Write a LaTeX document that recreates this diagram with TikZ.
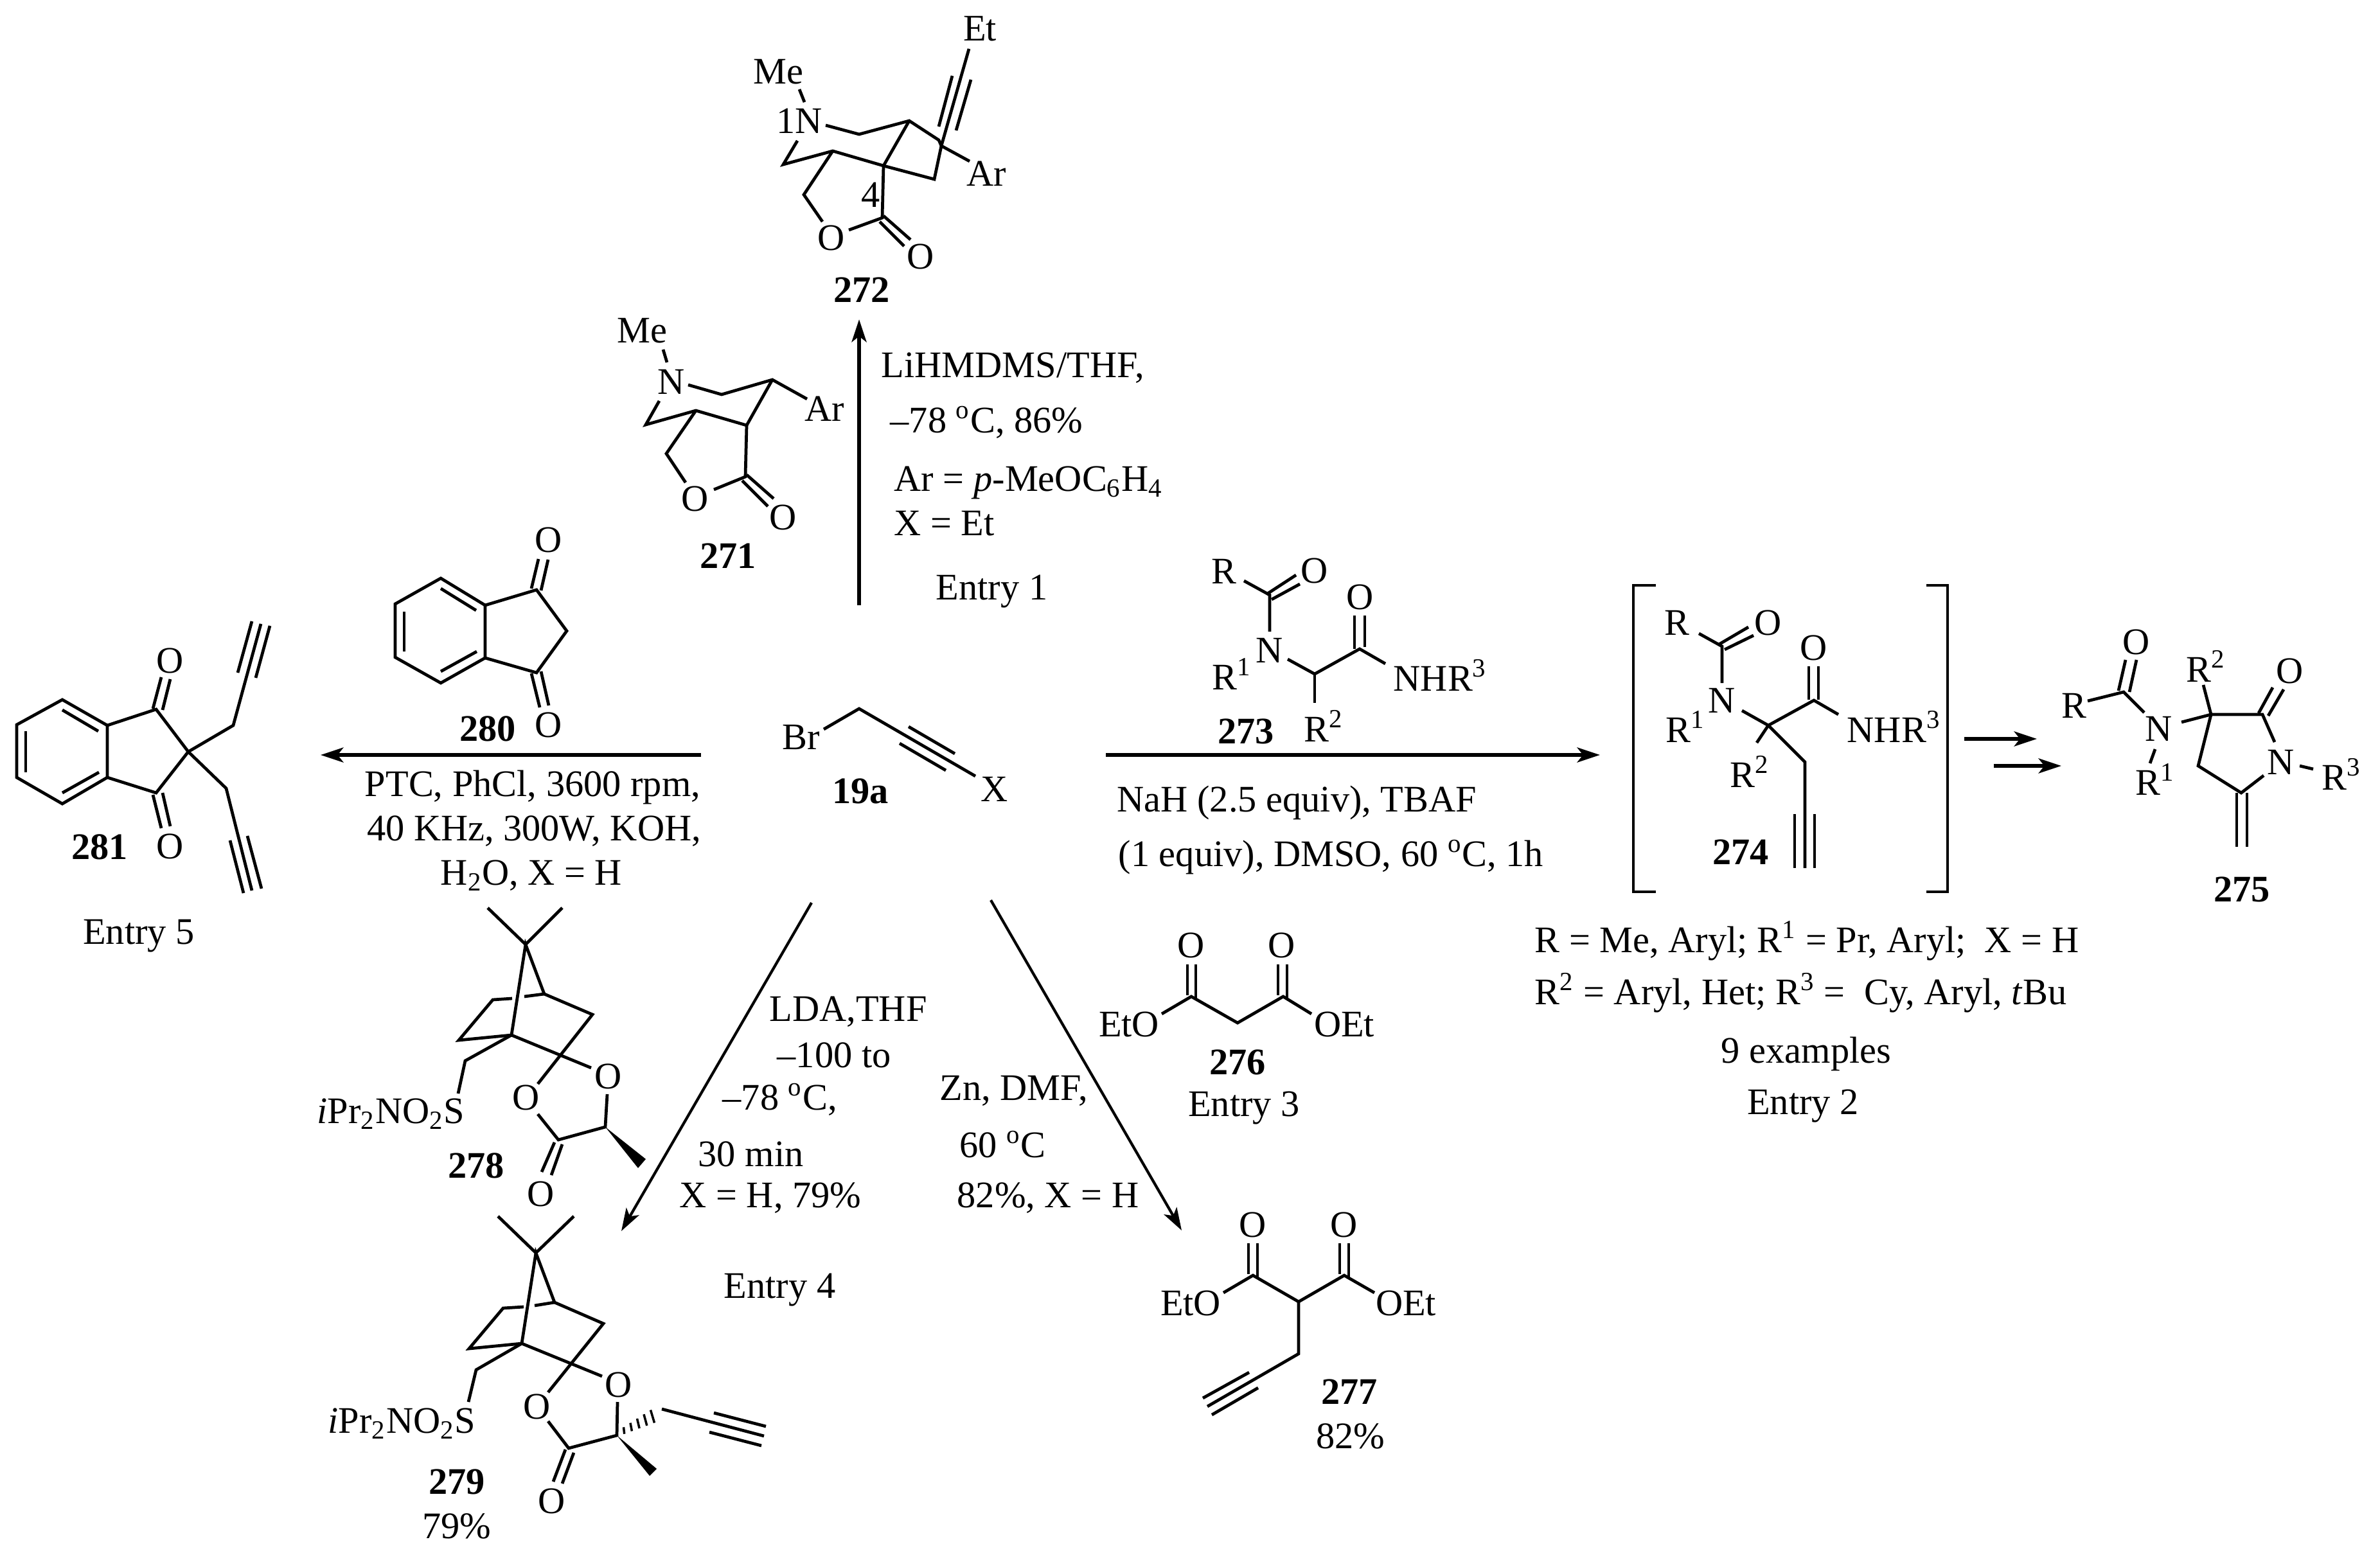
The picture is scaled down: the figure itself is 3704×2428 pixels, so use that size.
\documentclass[tikz,border=0pt]{standalone}
\usepackage{fontspec}
\setmainfont{Liberation Serif}
\usetikzlibrary{arrows.meta}
\tikzset{
  bond/.style={line width=1.35pt},
  rxn/.style={line width=1.7pt,-{Stealth[length=10pt,width=6.5pt,inset=2.5pt]}},
  rxnthin/.style={line width=1.2pt,-{Stealth[length=10pt,width=6.5pt,inset=2.5pt]}},
  lbl/.style={inner sep=0pt,font=\fontsize{16.6}{16.6}\selectfont},
  lft/.style={lbl,anchor=west},
  cpd/.style={lbl,font=\fontsize{16.6}{16.6}\selectfont\bfseries},
}
\newcommand{\dg}{\textsuperscript{o}}
\newcommand{\sbs}[1]{\textsubscript{#1}}
\newcommand{\sps}[1]{\textsuperscript{#1}}
\begin{document}
\begin{tikzpicture}[x=0.01cm,y=-0.01cm]
    \useasboundingbox (0,0) rectangle (3704,2428);

    % 272
    \draw[bond] (1508,76) -- (1465,227) -- (1461,218) -- (1415,188) -- (1337,209) -- (1285,195);
    \draw[bond] (1482,118) -- (1461,197);
    \draw[bond] (1511,124) -- (1488,203);
    \draw[bond] (1244,139) -- (1252,159);
    \draw[bond] (1465,227) -- (1454,279) -- (1375,258) -- (1296,235) -- (1219,256) -- (1241,219);
    \draw[bond] (1465,227) -- (1509,251);
    \draw[bond] (1415,188) -- (1375,258) -- (1373,339) -- (1321,358);
    \draw[bond] (1296,235) -- (1251,303) -- (1280,345);
    \draw[bond] (1375,336) -- (1417,373);
    \draw[bond] (1369,345) -- (1407,383);
    \node[lbl] (et272) at (1525,45) {Et};
    \node[lbl] (me272) at (1211,112) {Me};
    \node[lbl] (n272) at (1244,188) {1N};
    \node[lbl] (ar272) at (1535,270) {Ar};
    \node[lbl] (four272) at (1355,303) {4};
    \node[lbl] (o272a) at (1294,370) {O};
    \node[lbl] (o272b) at (1433,399) {O};
    \node[cpd] (c272) at (1341,451) {272};

    % 271
    \draw[bond] (1032,544) -- (1038,564);
    \draw[bond] (1071,599) -- (1123,614) -- (1202,591) -- (1256,621);
    \draw[bond] (1202,591) -- (1162,662) -- (1083,639) -- (1005,661) -- (1026,624);
    \draw[bond] (1083,639) -- (1037,706) -- (1067,751);
    \draw[bond] (1162,662) -- (1160,742) -- (1111,762);
    \draw[bond] (1162,739) -- (1204,776);
    \draw[bond] (1155,748) -- (1195,788);
    \node[lbl] (me271) at (999,515) {Me};
    \node[lbl] (n271) at (1045,594) {N};
    \node[lbl] (ar271) at (1283,636) {Ar};
    \node[lbl] (o271a) at (1082,776) {O};
    \node[lbl] (o271b) at (1219,805) {O};
    \node[cpd] (c271) at (1133,865) {271};

    % 19a
    \draw[bond] (1282,1135) -- (1337,1103) -- (1518,1208);
    \draw[bond] (1414,1131) -- (1486,1173);
    \draw[bond] (1400,1157) -- (1472,1199);
    \node[lbl] (br) at (1247,1147) {Br};
    \node[lbl] (x) at (1548,1228) {X};
    \node[cpd] (c19a) at (1339,1231) {19a};

    % flechas
    \coordinate (startup) at (1337,942);
    \coordinate (endup) at (1337,497);
    \coordinate (startleft) at (1091,1175);
    \coordinate (endleft) at (499,1175);
    \coordinate (startright) at (1721,1175);
    \coordinate (endright) at (2490,1175);
    \coordinate (startll) at (1263,1405);
    \coordinate (endll) at (967,1916);
    \coordinate (startlr) at (1542,1401);
    \coordinate (endlr) at (1839,1915);
    \coordinate (starta) at (3057,1150);
    \coordinate (enda) at (3170,1150);
    \coordinate (startb) at (3103,1192);
    \coordinate (endb) at (3208,1192);
    \draw[rxn] (startup) -- (endup);
    \draw[rxn] (startleft) -- (endleft);
    \draw[rxn] (startright) -- (endright);
    \draw[rxnthin] (startll) -- (endll);
    \draw[rxnthin] (startlr) -- (endlr);
    \draw[rxn] (starta) -- (enda);
    \draw[rxn] (startb) -- (endb);

    % condiciones
    \node[lft] (t1a) at (1371,573) {LiHMDMS/THF,};
    \node[lft] (t1b) at (1385,657) {–78 \dg C, 86\%};
    \node[lft] (t1c) at (1391,751) {Ar = \textit{p}-MeOC\sbs{6}H\sbs{4}};
    \node[lft] (t1d) at (1391,815) {X = Et};
    \node[lft] (t1e) at (1456,921) {Entry 1};
    \node[lbl] (t5a) at (829,1225) {PTC, PhCl, 3600 rpm,};
    \node[lbl] (t5b) at (831,1294) {40 KHz, 300W, KOH,};
    \node[lbl] (t5c) at (827,1363) {H\sbs{2}O, X = H};
    \node[lbl] (t5d) at (216,1457) {Entry 5};
    \node[lft] (t2a) at (1738,1249) {NaH (2.5 equiv), TBAF};
    \node[lft] (t2b) at (1740,1334) {(1 equiv), DMSO, 60 \dg C, 1h};
    \node[lft] (t2c) at (2388,1464) {R = Me, Aryl; R\sps{1} = Pr, Aryl;\ \ X = H};
    \node[lft] (t2d) at (2388,1545) {R\sps{2} = Aryl, Het; R\sps{3} =\ \ Cy, Aryl, \textit{t}Bu};
    \node[lbl] (t2e) at (2811,1640) {9 examples};
    \node[lbl] (t2f) at (2806,1721) {Entry 2};
    \node[lft] (t4a) at (1197,1575) {LDA,THF};
    \node[lft] (t4b) at (1209,1642) {–100 to};
    \node[lft] (t4c) at (1124,1711) {–78 \dg C,};
    \node[lft] (t4d) at (1086,1796) {30 min};
    \node[lft] (t4e) at (1057,1865) {X = H, 79\%};
    \node[lft] (t4f) at (1126,2008) {Entry 4};
    \node[lft] (t3a) at (1462,1698) {Zn, DMF,};
    \node[lft] (t3b) at (1493,1781) {60 \dg C};
    \node[lft] (t3c) at (1489,1865) {82\%, X = H};
    \node[lbl] (t3d) at (1936,1724) {Entry 3};

    % 280
    \draw[bond] (686,900) -- (755,942) -- (755,1024) -- (686,1063) -- (615,1023) -- (615,940) -- cycle;
    \draw[bond] (686,916) -- (741,950);
    \draw[bond] (686,1045) -- (742,1014);
    \draw[bond] (629,952) -- (629,1014);
    \draw[bond] (755,942) -- (835,918) -- (882,982) -- (835,1047) -- (755,1024);
    \draw[bond] (827,916) -- (838,870);
    \draw[bond] (842,919) -- (853,871);
    \draw[bond] (827,1048) -- (840,1101);
    \draw[bond] (842,1045) -- (854,1098);
    \node[lbl] (o280a) at (854,840) {O};
    \node[lbl] (o280b) at (854,1128) {O};
    \node[cpd] (c280) at (759,1134) {280};

    % 281
    \draw[bond] (97,1089) -- (167,1129) -- (167,1210) -- (97,1251) -- (26,1210) -- (26,1128) -- cycle;
    \draw[bond] (97,1105) -- (153,1138);
    \draw[bond] (97,1234) -- (154,1202);
    \draw[bond] (40,1138) -- (40,1202);
    \draw[bond] (167,1129) -- (243,1104) -- (293,1170) -- (243,1234) -- (167,1210);
    \draw[bond] (238,1103) -- (251,1054);
    \draw[bond] (253,1105) -- (265,1057);
    \draw[bond] (238,1237) -- (251,1289);
    \draw[bond] (253,1234) -- (265,1286);
    \draw[bond] (293,1170) -- (363,1129) -- (406,971);
    \draw[bond] (370,1047) -- (392,967);
    \draw[bond] (398,1055) -- (420,974);
    \draw[bond] (293,1170) -- (352,1227) -- (392,1386);
    \draw[bond] (358,1308) -- (379,1390);
    \draw[bond] (385,1301) -- (407,1383);
    \node[lbl] (o281a) at (265,1028) {O};
    \node[lbl] (o281b) at (265,1317) {O};
    \node[cpd] (c281) at (155,1318) {281};

    % 273
    \draw[bond] (1936,904) -- (1976,926) -- (1976,983);
    \draw[bond] (1971,925) -- (2017,895);
    \draw[bond] (1979,933) -- (2023,909);
    \draw[bond] (2004,1026) -- (2046,1049) -- (2116,1010) -- (2156,1033);
    \draw[bond] (2108,958) -- (2108,1010);
    \draw[bond] (2124,958) -- (2124,1007);
    \draw[bond] (2046,1049) -- (2046,1094);
    \node[lbl] (r273) at (1905,889) {R};
    \node[lbl] (oa273) at (2046,888) {O};
    \node[lbl] (n273) at (1976,1012) {N};
    \node[lft] (ra273) at (1886,1049) {R\sps{1}};
    \node[lbl] (ob273) at (2117,929) {O};
    \node[lft] (nh273) at (2168,1051) {NHR\sps{3}};
    \node[lft] (rb273) at (2029,1130) {R\sps{2}};
    \node[cpd] (c273) at (1939,1138) {273};

    % 274
    \draw[bond] (2577,911) -- (2542,911) -- (2542,1388) -- (2577,1388);
    \draw[bond] (2998,911) -- (3031,911) -- (3031,1388) -- (2998,1388);
    \draw[bond] (2644,986) -- (2680,1006) -- (2680,1063);
    \draw[bond] (2675,1003) -- (2721,976);
    \draw[bond] (2684,1011) -- (2729,989);
    \draw[bond] (2711,1106) -- (2752,1129) -- (2823,1090) -- (2861,1112);
    \draw[bond] (2815,1037) -- (2815,1089);
    \draw[bond] (2830,1037) -- (2830,1089);
    \draw[bond] (2752,1129) -- (2734,1156);
    \draw[bond] (2752,1129) -- (2809,1186) -- (2809,1351);
    \draw[bond] (2793,1267) -- (2793,1351);
    \draw[bond] (2824,1267) -- (2824,1351);
    \node[lbl] (r274) at (2610,969) {R};
    \node[lbl] (oa274) at (2752,969) {O};
    \node[lbl] (n274) at (2680,1090) {N};
    \node[lft] (ra274) at (2592,1131) {R\sps{1}};
    \node[lbl] (ob274) at (2823,1008) {O};
    \node[lft] (nh274) at (2874,1131) {NHR\sps{3}};
    \node[lft] (rb274) at (2692,1201) {R\sps{2}};
    \node[cpd] (c274) at (2709,1326) {274};

    % 275
    \draw[bond] (3308,1027) -- (3297,1075);
    \draw[bond] (3325,1027) -- (3314,1077);
    \draw[bond] (3249,1091) -- (3305,1077) -- (3337,1109);
    \draw[bond] (3354,1166) -- (3346,1188);
    \draw[bond] (3395,1124) -- (3441,1112) -- (3429,1066);
    \draw[bond] (3441,1112) -- (3521,1112) -- (3540,1155);
    \draw[bond] (3515,1110) -- (3537,1070);
    \draw[bond] (3530,1114) -- (3554,1073);
    \draw[bond] (3579,1192) -- (3600,1197);
    \draw[bond] (3523,1207) -- (3488,1234) -- (3421,1192) -- (3441,1112);
    \draw[bond] (3481,1234) -- (3481,1318);
    \draw[bond] (3497,1234) -- (3497,1318);
    \node[lbl] (o275a) at (3325,999) {O};
    \node[lbl] (r275) at (3228,1098) {R};
    \node[lbl] (n275a) at (3360,1134) {N};
    \node[lft] (ra275) at (3323,1213) {R\sps{1}};
    \node[lft] (rb275) at (3402,1037) {R\sps{2}};
    \node[lbl] (o275b) at (3564,1044) {O};
    \node[lbl] (n275b) at (3550,1186) {N};
    \node[lft] (rc275) at (3613,1205) {R\sps{3}};
    \node[cpd] (c275) at (3489,1384) {275};

    % 276
    \draw[bond] (1808,1578) -- (1854,1551) -- (1926,1592) -- (1997,1551) -- (2041,1578);
    \draw[bond] (1848,1501) -- (1848,1549);
    \draw[bond] (1861,1501) -- (1861,1555);
    \draw[bond] (1989,1501) -- (1989,1549);
    \draw[bond] (2003,1501) -- (2003,1555);
    \node[lbl] (oa276) at (1854,1471) {O};
    \node[lbl] (ob276) at (1995,1471) {O};
    \node[lbl] (eto276) at (1757,1594) {EtO};
    \node[lbl] (oet276) at (2092,1594) {OEt};
    \node[cpd] (c276) at (1926,1653) {276};

    % 277
    \draw[bond] (1904,2012) -- (1950,1985) -- (2021,2026) -- (2092,1985) -- (2139,2012);
    \draw[bond] (1943,1935) -- (1943,1983);
    \draw[bond] (1957,1935) -- (1957,1989);
    \draw[bond] (2085,1935) -- (2085,1983);
    \draw[bond] (2099,1935) -- (2099,1989);
    \draw[bond] (2021,2026) -- (2021,2107) -- (1879,2189);
    \draw[bond] (1944,2136) -- (1872,2176);
    \draw[bond] (1958,2160) -- (1886,2202);
    \node[lbl] (oa277) at (1950,1906) {O};
    \node[lbl] (ob277) at (2092,1906) {O};
    \node[lbl] (eto277) at (1853,2028) {EtO};
    \node[lbl] (oet277) at (2188,2028) {OEt};
    \node[cpd] (c277) at (2100,2166) {277};
    \node[lbl] (y277) at (2102,2235) {82\%};

    % 278
    \draw[bond] (759,1413) -- (818,1470) -- (875,1413);
    \draw[bond] (847,1547) -- (818,1470) -- (796,1611);
    \draw[bond] (847,1547) -- (816,1551);
    \draw[bond] (797,1554) -- (767,1556) -- (714,1619) -- (796,1611);
    \draw[bond] (847,1547) -- (922,1579) -- (837,1687);
    \draw[bond] (796,1611) -- (920,1662);
    \draw[bond] (796,1611) -- (724,1651) -- (713,1702);
    \draw[bond] (945,1703) -- (942,1754) -- (869,1774) -- (837,1734);
    \draw[bond] (863,1778) -- (843,1824);
    \draw[bond] (875,1781) -- (858,1829);
    \fill (942,1754) -- (1005,1804) -- (993,1818) -- cycle;
    \node[lft] (s278) at (493,1734) {\textit{i}Pr\sbs{2}NO\sbs{2}S};
    \node[lbl] (oa278) at (819,1708) {O};
    \node[lbl] (ob278) at (947,1675) {O};
    \node[lbl] (oc278) at (842,1858) {O};
    \node[cpd] (c278) at (741,1814) {278};

    % 279
    \draw[bond] (775,1893) -- (834,1950) -- (893,1893);
    \draw[bond] (863,2027) -- (834,1950) -- (812,2091);
    \draw[bond] (863,2027) -- (832,2032);
    \draw[bond] (815,2034) -- (783,2036) -- (730,2099) -- (812,2091);
    \draw[bond] (863,2027) -- (939,2060) -- (853,2167);
    \draw[bond] (812,2091) -- (937,2142);
    \draw[bond] (812,2091) -- (741,2132) -- (729,2182);
    \draw[bond] (961,2182) -- (960,2234) -- (885,2254) -- (853,2212);
    \draw[bond] (880,2256) -- (861,2306);
    \draw[bond] (893,2261) -- (875,2309);
    \fill (960,2234) -- (1022,2286) -- (1011,2297) -- cycle;
    \foreach \i in {1,...,5}
        \draw[line width=1pt] ({960+\i*10.5},{2228-\i*5.5-\i*1.2}) -- ({960+\i*10.5+\i*1.2},{2236-\i*5.5+\i*1.2});
    \draw[bond] (1030,2193) -- (1189,2235);
    \draw[bond] (1111,2199) -- (1192,2220);
    \draw[bond] (1104,2229) -- (1185,2250);
    \node[lft] (s279) at (510,2216) {\textit{i}Pr\sbs{2}NO\sbs{2}S};
    \node[lbl] (oa279) at (836,2189) {O};
    \node[lbl] (ob279) at (963,2155) {O};
    \node[lbl] (oc279) at (859,2336) {O};
    \node[cpd] (c279) at (711,2306) {279};
    \node[lbl] (y279) at (711,2375) {79\%};

\end{tikzpicture}
\end{document}
